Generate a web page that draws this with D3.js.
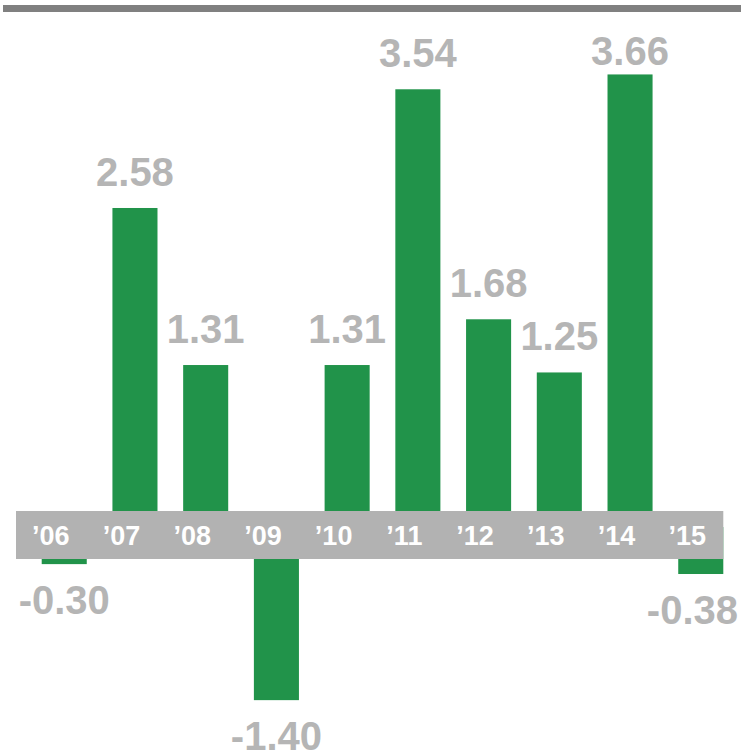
<!DOCTYPE html>
<html>
<head>
<meta charset="utf-8">
<script src="https://cdn.jsdelivr.net/npm/d3@7"></script>
<style>
  html, body { margin: 0; padding: 0; background: #ffffff; }
  svg { display: block; }
  text { font-family: "Liberation Sans", Arial, sans-serif; font-weight: bold; }
</style>
</head>
<body>
<svg id="chart" width="744" height="754"></svg>
<script>
const years = ["’06", "’07", "’08", "’09", "’10", "’11", "’12", "’13", "’14", "’15"];
const values = [-0.30, 2.58, 1.31, -1.40, 1.31, 3.54, 1.68, 1.25, 3.66, -0.38];
const valueLabels = ["-0.30", "2.58", "1.31", "-1.40", "1.31", "3.54", "1.68", "1.25", "3.66", "-0.38"];

const W = 744, H = 754;
const svg = d3.select("#chart");

const x = d3.scaleBand().domain(years).range([16, 749]).paddingInner(0.363).paddingOuter(0.3635);
const y = d3.scaleLinear().domain([-1.8, 4.0]).range([749.6, 32.4]);

const green = "#21934a";
const labelGray = "#b5b5b5";

// top rule
svg.append("rect").attr("x", 3).attr("y", 5).attr("width", 738).attr("height", 7).attr("fill", "#808080");

// bars
svg.append("g").selectAll("rect").data(values).join("rect")
  .attr("x", (d, i) => x(years[i]))
  .attr("width", x.bandwidth())
  .attr("y", d => y(Math.max(0, d)))
  .attr("height", d => Math.abs(y(d) - y(0)))
  .attr("fill", green);

// axis band
const bandLeft = x.range()[0];
const bandRight = x(years[years.length - 1]) + x.bandwidth();
svg.append("rect").attr("x", bandLeft).attr("y", 511).attr("width", bandRight - bandLeft).attr("height", 48).attr("fill", "#b2b2b2");

// axis labels
const axis = d3.axisBottom(x).tickSize(0).tickPadding(0);
const gAxis = svg.append("g").attr("transform", "translate(-13.5,545)").call(axis);
gAxis.select(".domain").remove();
gAxis.selectAll("text")
  .attr("dy", null).attr("y", 0)
  .attr("fill", "#ffffff")
  .style("font-family", '"Liberation Sans", Arial, sans-serif')
  .style("font-weight", "bold")
  .style("font-size", "27px");

// value labels
const vl = svg.append("g").selectAll("text").data(values).join("text")
  .attr("text-anchor", "middle")
  .attr("x", (d, i) => x(years[i]) + x.bandwidth() / 2)
  .attr("y", d => d >= 0 ? Math.max(y(d) - 22, 65) : y(d) + 50)
  .attr("fill", labelGray)
  .style("font-size", "40px")
  .text((d, i) => valueLabels[i]);

// keep labels inside the canvas
vl.each(function () {
  const bb = this.getBBox();
  const maxRight = W - 6;
  if (bb.x + bb.width > maxRight) {
    d3.select(this).attr("x", +d3.select(this).attr("x") - (bb.x + bb.width - maxRight));
  }
});
</script>
</body>
</html>
